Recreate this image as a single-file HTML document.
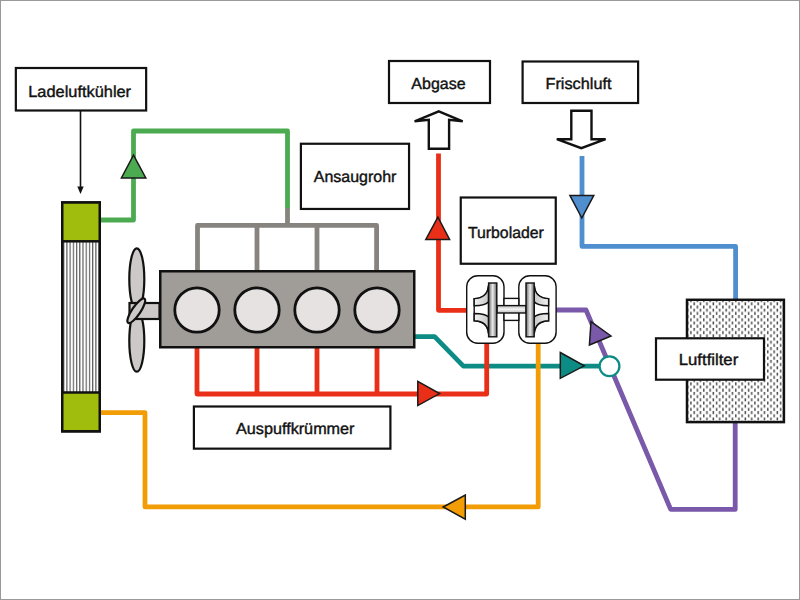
<!DOCTYPE html>
<html><head><meta charset="utf-8">
<style>
html,body{margin:0;padding:0;background:#fff;width:800px;height:600px;overflow:hidden}
svg{display:block}
text{text-rendering:geometricPrecision;font-family:"Liberation Sans",sans-serif;font-size:15.9px;fill:#111;stroke:#111;stroke-width:0.4px}
</style></head><body>
<svg width="800" height="600" viewBox="0 0 800 600">
<defs>
<pattern id="stripes" x="66.3" y="0" width="3.22" height="10" patternUnits="userSpaceOnUse">
<rect x="0" y="0" width="3.22" height="10" fill="#fff"/>
<rect x="0" y="0" width="1.2" height="10" fill="#5e5e5e"/>
</pattern>
<pattern id="dots" x="690.2" y="302.3" width="6.4" height="6.4" patternUnits="userSpaceOnUse">
<rect width="6.4" height="6.4" fill="#fff"/>
<rect x="0" y="3.2" width="1.5" height="3" fill="#505050"/>
<rect x="3.2" y="0" width="1.5" height="3" fill="#505050"/>
</pattern>
<linearGradient id="discg" x1="0" y1="0" x2="1" y2="0">
<stop offset="0" stop-color="#666"/><stop offset="0.5" stop-color="#eee"/><stop offset="1" stop-color="#666"/>
</linearGradient>
<linearGradient id="shaftg" x1="0" y1="0" x2="0" y2="1">
<stop offset="0" stop-color="#bbb"/><stop offset="0.5" stop-color="#f4f4f4"/><stop offset="1" stop-color="#bbb"/>
</linearGradient>
<linearGradient id="bandg" x1="0" y1="0" x2="1" y2="0">
<stop offset="0" stop-color="#f2f2f2"/><stop offset="1" stop-color="#c8c8c8"/>
</linearGradient>
</defs>
<rect x="0.5" y="0.5" width="799" height="599" fill="#fff" stroke="#999" stroke-width="1"/>

<!-- pipes -->
<g fill="none" stroke-width="4.8" stroke-linejoin="round" stroke-linecap="butt">
<polyline points="414,336.6 434.6,336.6 463.4,366.2 600,366.2" stroke="#0d8c86"/>
<polyline points="101,220 133.5,220 133.5,131 287.5,131 287.5,209" stroke="#4cab50"/>
<polyline points="287.5,208 287.5,225.4" stroke="#87847f"/>
<polyline points="197.5,272 197.5,225.4 376.6,225.4 376.6,272" stroke="#87847f"/>
<line x1="257" y1="225.4" x2="257" y2="272" stroke="#87847f"/>
<line x1="317" y1="225.4" x2="317" y2="272" stroke="#87847f"/>
<polyline points="197,346 197,394 486.7,394 486.7,342" stroke="#ea2f19"/>
<line x1="257" y1="346" x2="257" y2="394" stroke="#ea2f19"/>
<line x1="317" y1="346" x2="317" y2="394" stroke="#ea2f19"/>
<line x1="377" y1="346" x2="377" y2="394" stroke="#ea2f19"/>
<polyline points="468,310.3 438.5,310.3 438.5,153.5" stroke="#ea2f19"/>
<polyline points="101,412.7 145,412.7 145,506.9 538.2,506.9 538.2,342" stroke="#f29c06"/>
<polyline points="556,310 586,310 670.7,509.4 735.2,509.4 735.2,421" stroke="#7a58aa"/>
<polyline points="582,156 582,246.4 735.6,246.4 735.6,301" stroke="#4f8ecf"/>
</g>

<!-- arrows (triangles) -->
<g stroke="#1a1a1a" stroke-width="1.5" stroke-linejoin="miter">
<polygon points="133.5,155.2 121.4,178 145.8,178" fill="#4cab50"/>
<polygon points="437.9,217.2 425.8,239.5 449.6,239.5" fill="#ea2f19"/>
<polygon points="417.8,381.3 439.6,393.6 417.8,405.6" fill="#ea2f19"/>
<polygon points="569.9,195.4 593.8,195.4 581.8,218" fill="#4f8ecf"/>
<polygon points="443.2,507 465.3,495 465.3,519.2" fill="#f29c06"/>
<polygon points="560.3,352.5 584.2,365.8 560.3,378.3" fill="#0d8c86"/>
<polygon points="591,321.6 611,336 589.4,345" fill="#7a58aa"/>
</g>
<circle cx="609.5" cy="366.3" r="9.9" fill="#fff" stroke="#0d8c86" stroke-width="2.3"/>

<!-- radiator -->
<rect x="62.25" y="202.5" width="37.5" height="228.8" fill="url(#stripes)" stroke="#111" stroke-width="2.5"/>
<rect x="62.25" y="202.5" width="37.5" height="38.8" fill="#a0bc0c" stroke="#111" stroke-width="2.5"/>
<rect x="62.25" y="392.5" width="37.5" height="38.75" fill="#a0bc0c" stroke="#111" stroke-width="2.5"/>

<!-- label line -->
<line x1="80.5" y1="111" x2="80.5" y2="188" stroke="#111" stroke-width="1.6"/>
<polygon points="77.3,186.5 83.7,186.5 80.5,194" fill="#111"/>

<!-- propeller -->
<g stroke="#111" stroke-width="2.2" fill="#cdc9c8">
<ellipse cx="136.8" cy="279.2" rx="7.5" ry="30.9"/>
<ellipse cx="136.8" cy="340.8" rx="7.5" ry="30.9"/>
<rect x="129.5" y="303" width="30" height="16"/>
<ellipse cx="136.3" cy="310.8" rx="14.6" ry="4.2" transform="rotate(-56 136.3 310.8)"/>
</g>

<!-- engine -->
<rect x="160.25" y="271.25" width="254" height="76" fill="#a09c98" stroke="#111" stroke-width="2.5"/>
<g fill="#e7e2e2" stroke="#111" stroke-width="2.8">
<circle cx="197" cy="310" r="22.2"/>
<circle cx="257" cy="310" r="22.2"/>
<circle cx="317" cy="310" r="22.2"/>
<circle cx="377" cy="310" r="22.2"/>
</g>

<!-- filter -->
<rect x="687" y="299.8" width="96.9" height="122.3" fill="url(#dots)" stroke="#111" stroke-width="2.5"/>

<!-- hollow arrows -->
<polygon points="438.8,111.4 462.7,121.3 449.1,119.9 449.1,148.7 428.8,148.7 428.8,119.9 414.6,121.3" fill="#fff" stroke="#111" stroke-width="2.4" stroke-miterlimit="4"/>
<polygon points="571.3,110.8 591.5,110.8 591.5,139.2 605.6,139.2 581.3,148.2 556.8,139.2 571.3,139.2" fill="#fff" stroke="#111" stroke-width="2.4" stroke-miterlimit="4"/>

<!-- turbo -->
<g stroke="#111" stroke-width="1.4">
<rect x="466.7" y="275.7" width="37.3" height="67.6" rx="11" fill="#fff"/>
<rect x="518.8" y="275.7" width="37.3" height="67.6" rx="11" fill="#fff"/>
<rect x="504" y="298.4" width="14.8" height="22" fill="#fff"/>
<rect x="497" y="305.6" width="29" height="7.4" fill="url(#shaftg)"/>
<g id="imp">
<path d="M488.5,285.5 Q487.7,298 474.2,298.6 L474.2,320.8 Q487.7,321.3 488.5,333.5 Z" fill="#fff"/>
<path d="M488.5,285.5 Q487.7,298 474.2,298.6 L474.2,305.8 Q486,305.6 488.5,301.6 Z" fill="url(#bandg)"/>
<path d="M488.5,333.5 Q487.7,321.3 474.2,320.8 L474.2,313.5 Q486,313.7 488.5,317.2 Z" fill="url(#bandg)"/>
<rect x="488.6" y="283" width="8.2" height="53.8" fill="url(#discg)"/>
</g>
<use href="#imp" transform="translate(1022.8,0) scale(-1,1)"/>
</g>

<!-- boxes -->
<g fill="#fff" stroke="#111" stroke-width="2.2">
<rect x="15.85" y="68" width="130.3" height="42.5"/>
<rect x="389" y="61" width="101" height="42"/>
<rect x="522.6" y="61.5" width="115.5" height="41.5"/>
<rect x="300.9" y="143.75" width="108.15" height="65.2"/>
<rect x="460.75" y="197.5" width="95" height="66.25"/>
<rect x="193.9" y="406.5" width="196.5" height="42.15"/>
<rect x="656" y="338.3" width="108" height="41.4"/>
</g>
<g id="texts">
<text x="28.28" y="96.60" textLength="102.82" lengthAdjust="spacingAndGlyphs">Ladeluftkühler</text>
<text x="411.38" y="88.60" textLength="54.24" lengthAdjust="spacingAndGlyphs">Abgase</text>
<text x="545.50" y="88.60" textLength="66.00" lengthAdjust="spacingAndGlyphs">Frischluft</text>
<text x="313.74" y="181.80" textLength="82.62" lengthAdjust="spacingAndGlyphs">Ansaugrohr</text>
<text x="467.96" y="237.50" textLength="75.88" lengthAdjust="spacingAndGlyphs">Turbolader</text>
<text x="236.00" y="434.10" textLength="118.52" lengthAdjust="spacingAndGlyphs">Auspuffkrümmer</text>
<text x="678.74" y="365.40" textLength="59.52" lengthAdjust="spacingAndGlyphs">Luftfilter</text>
</g>
</svg>
</body></html>
